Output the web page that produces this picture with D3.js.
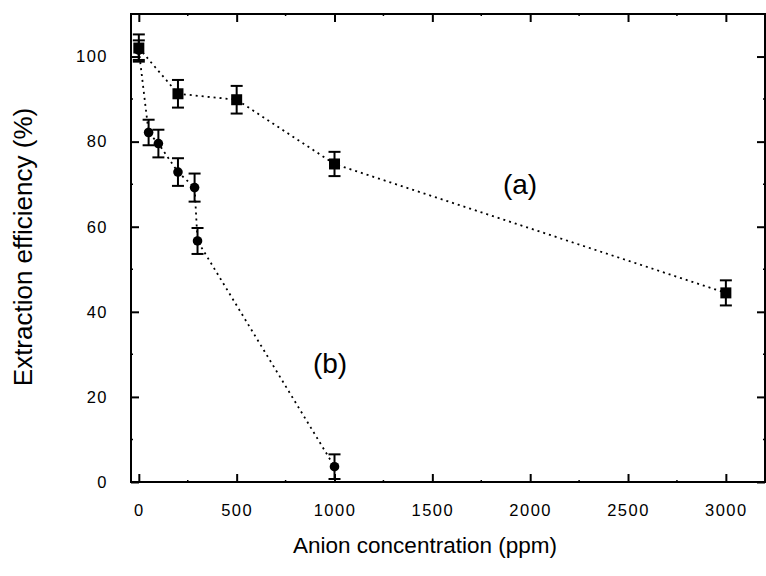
<!DOCTYPE html>
<html>
<head>
<meta charset="utf-8">
<script src="https://cdn.jsdelivr.net/npm/d3@7"></script>
<style>
  html, body { margin: 0; padding: 0; background: #fff; }
  svg { display: block; }
  text { font-family: "Liberation Sans", Arial, sans-serif; fill: #000; }
</style>
</head>
<body>
<svg id="chart" width="766" height="576"></svg>
<script>
// ---- data ----
const concA = [0, 200, 500, 1000, 3000];
const effA  = [102, 91.25, 89.85, 74.75, 44.45];
const errA  = [3.2, 3.25, 3.25, 2.85, 2.95];

const concB = [0, 50, 100, 200, 285, 300, 1000];
const effB  = [101.5, 82.15, 79.55, 72.85, 69.2, 56.65, 3.6];
const errB  = [2.3, 3.0, 3.25, 3.25, 3.3, 3.05, 2.9];

const xTicks = [0, 500, 1000, 1500, 2000, 2500, 3000];
const yTicks = [0, 20, 40, 60, 80, 100];

const xTitle = "Anion concentration (ppm)";
const yTitle = "Extraction efficiency (%)";
const labelA = "(a)";
const labelB = "(b)";

// ---- layout ----
const svg = d3.select("#chart");
const L = 131, R = 765, T = 14, B = 482;
const x = d3.scaleLinear().domain([-40, 3200]).range([L, R]);
const y = d3.scaleLinear().domain([0, 110]).range([B, T]);

const xMinor = d3.range(0, 3201, 250).filter(v => v % 500 !== 0);
const yMinor = d3.range(10, 110, 20);

function styleAxis(g) {
  g.select(".domain").remove();
  g.selectAll(".tick line").attr("stroke", "#000").attr("stroke-width", 2);
  g.selectAll(".tick text")
    .style("font-size", "16.5px")
    .style("letter-spacing", "1.5px")
    .attr("fill", "#000");
}

// bottom axis with labels
svg.append("g").attr("transform", `translate(0,${B})`)
  .call(d3.axisBottom(x).tickValues(xTicks).tickSize(-8).tickPadding(22).tickFormat(d3.format("d")))
  .call(styleAxis);
// top axis
svg.append("g").attr("transform", `translate(0,${T})`)
  .call(d3.axisTop(x).tickValues(xTicks).tickSize(-8).tickFormat(""))
  .call(styleAxis);
// left axis with labels
svg.append("g").attr("transform", `translate(${L},0)`)
  .call(d3.axisLeft(y).tickValues(yTicks).tickSize(-8).tickPadding(23).tickFormat(d3.format("d")))
  .call(styleAxis);
// right axis
svg.append("g").attr("transform", `translate(${R},0)`)
  .call(d3.axisRight(y).tickValues(yTicks).tickSize(-8).tickFormat(""))
  .call(styleAxis);

// minor ticks
const minor = svg.append("g").attr("stroke", "#000").attr("stroke-width", 1.5);
xMinor.forEach(v => {
  minor.append("line").attr("x1", x(v)).attr("x2", x(v)).attr("y1", B).attr("y2", B - 2);
  minor.append("line").attr("x1", x(v)).attr("x2", x(v)).attr("y1", T).attr("y2", T + 2);
});
yMinor.forEach(v => {
  minor.append("line").attr("x1", L).attr("x2", L + 2).attr("y1", y(v)).attr("y2", y(v));
  minor.append("line").attr("x1", R).attr("x2", R - 2).attr("y1", y(v)).attr("y2", y(v));
});

// frame
svg.append("rect").attr("x", L).attr("y", T).attr("width", R - L).attr("height", B - T)
  .attr("fill", "none").attr("stroke", "#000").attr("stroke-width", 2);

// series
function series(conc, eff, err, shape) {
  const pts = conc.map((c, i) => ({ c, v: eff[i], e: err[i] }));
  const line = d3.line().x(d => x(d.c)).y(d => y(d.v));
  svg.append("path").datum(pts).attr("d", line)
    .attr("fill", "none").attr("stroke", "#000").attr("stroke-width", 1.8)
    .attr("stroke-dasharray", "2,4");
  const g = svg.append("g");
  pts.forEach(d => {
    const cx = x(d.c), t = y(d.v + d.e), b = y(d.v - d.e);
    g.append("line").attr("x1", cx).attr("x2", cx).attr("y1", t).attr("y2", b).attr("stroke", "#000").attr("stroke-width", 2);
    g.append("line").attr("x1", cx - 6).attr("x2", cx + 6).attr("y1", t).attr("y2", t).attr("stroke", "#000").attr("stroke-width", 2);
    g.append("line").attr("x1", cx - 6).attr("x2", cx + 6).attr("y1", b).attr("y2", b).attr("stroke", "#000").attr("stroke-width", 2);
    if (shape === "square") {
      g.append("rect").attr("x", cx - 5.5).attr("y", y(d.v) - 5.5).attr("width", 11).attr("height", 11).attr("fill", "#000");
    } else {
      g.append("circle").attr("cx", cx).attr("cy", y(d.v)).attr("r", 4.8).attr("fill", "#000");
    }
  });
}
series(concB, effB, errB, "circle");
series(concA, effA, errA, "square");

// annotations
svg.append("text").attr("x", 520).attr("y", 194).attr("text-anchor", "middle")
  .style("font-size", "28px").text(labelA);
svg.append("text").attr("x", 330).attr("y", 373).attr("text-anchor", "middle")
  .style("font-size", "28px").text(labelB);

// axis titles
svg.append("text").attr("x", 425).attr("y", 553).attr("text-anchor", "middle")
  .style("font-size", "22.5px").text(xTitle);
svg.append("text").attr("transform", "translate(32,247) rotate(-90)").attr("text-anchor", "middle")
  .style("font-size", "26px").text(yTitle);
</script>
</body>
</html>
